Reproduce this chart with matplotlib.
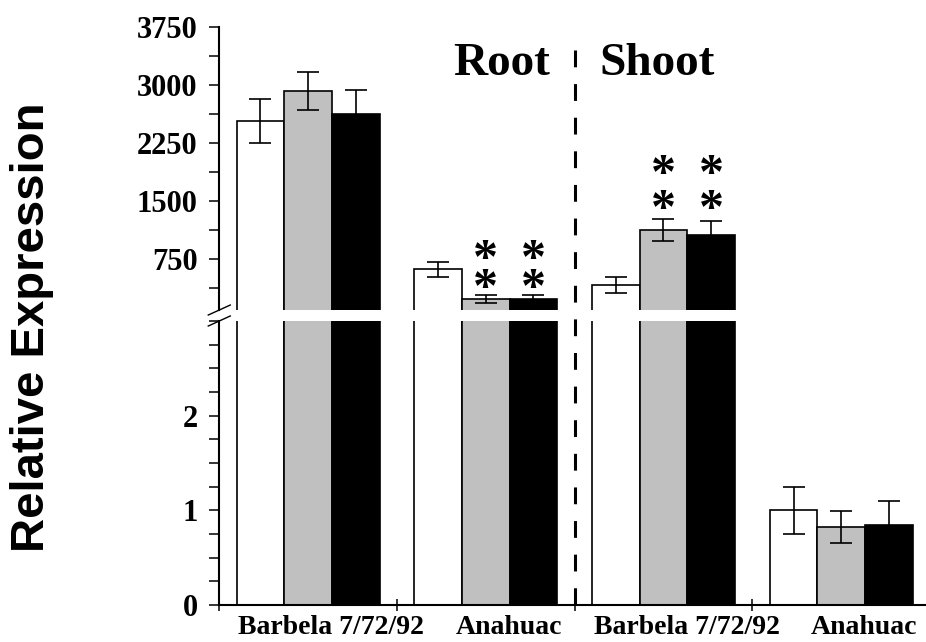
import matplotlib
matplotlib.use("Agg")
import matplotlib.pyplot as plt
import matplotlib.transforms as mtransforms
from matplotlib.lines import Line2D
from matplotlib.ticker import FixedLocator, MultipleLocator
import numpy as np

# data (root groups and shoot Barbela sit on the upper scale)
groups = ["Barbela 7/72/92", "Anahuac", "Barbela 7/72/92", "Anahuac"]
white_mean = [2540, 620, 420, 1.00]
gray_mean = [2925, 235, 1130, 0.82]
black_mean = [2635, 237, 1070, 0.84]
white_err = [280, 100, 105, 0.25]
gray_err = [245, 48, 145, 0.17]
black_err = [310, 48, 177, 0.26]

# significance marks "**" stacked above gray / black bars: group -> (mid y, line spacing)
star_groups = [1, 2]
star_mid = [545, 1600]
star_spacing = [0.52, 0.68]

serif = "Liberation Serif"
sans = "Liberation Sans"

fig = plt.figure(figsize=(9.26, 6.42), dpi=100)
ax_up = fig.add_axes([0.2368, 0.5171, 0.7675, 0.4404])
ax_low = fig.add_axes([0.2368, 0.0576, 0.7675, 0.4424])

bw = 0.268
x = np.arange(len(groups)) + 0.5
series = [(white_mean, white_err, "white"),
          (gray_mean, gray_err, "#c0c0c0"),
          (black_mean, black_err, "black")]

for ax in (ax_up, ax_low):
    for k, (m, e, c) in enumerate(series):
        ax.bar(x + (k - 1) * bw, m, bw, color=c, edgecolor="black",
               linewidth=1.2, yerr=e, capsize=8,
               error_kw=dict(ecolor="black", elinewidth=1.2, capthick=1.2))
    ax.set_xlim(0, 4)
    for s in ("top", "right"):
        ax.spines[s].set_visible(False)
    ax.spines["left"].set_linewidth(1.5)
    ax.tick_params(axis="y", which="both", direction="out", length=7.5,
                   width=1.1, pad=8, labelsize=22)

# upper scale
ax_up.set_ylim(95, 3750)
ax_up.spines["bottom"].set_visible(False)
ax_up.tick_params(axis="x", which="both", bottom=False, labelbottom=False)
ax_up.yaxis.set_major_locator(FixedLocator([750, 1500, 2250, 3000, 3750]))
ax_up.yaxis.set_minor_locator(FixedLocator([375, 1125, 1875, 2625, 3375]))

# lower scale
ax_low.set_ylim(0, 3)
ax_low.spines["bottom"].set_linewidth(1.5)
ax_low.yaxis.set_major_locator(FixedLocator([0, 1, 2]))
ax_low.yaxis.set_minor_locator(MultipleLocator(0.25))
ax_low.set_xticks(x + 0.13)
ax_low.set_xticklabels(groups, fontfamily=serif, fontweight="bold", fontsize=20)
ax_low.xaxis.set_minor_locator(FixedLocator([0, 1, 2, 3, 4]))
ax_low.tick_params(axis="x", which="major", length=0, pad=7)
ax_low.tick_params(axis="x", which="minor", direction="inout", length=9, width=1.1)

for ax in (ax_up, ax_low):
    for lab in ax.get_yticklabels():
        lab.set_fontfamily(serif)
        lab.set_fontweight("bold")

# break marks on the left spine
dx, dy = 0.0155, 0.0177
ax_up.plot([-dx, dx], [-dy, dy], transform=ax_up.transAxes, color="black",
           lw=1.0, clip_on=False)
ax_low.plot([-dx, dx], [1 - dy, 1 + dy], transform=ax_low.transAxes,
            color="black", lw=1.0, clip_on=False)

# stars
for g, ym, ls in zip(star_groups, star_mid, star_spacing):
    for b in (1, 2):
        ax_up.text(x[g] + (b - 1) * bw, ym, "*\n*", ha="center", va="center",
                   fontsize=36, fontfamily=serif, fontweight="bold",
                   linespacing=ls)

# Root / Shoot headings
ax_up.text(1.861, 3133, "Root", ha="right", va="baseline", fontsize=34,
           fontfamily=serif, fontweight="bold")
ax_up.text(2.142, 3133, "Shoot", ha="left", va="baseline", fontsize=34,
           fontfamily=serif, fontweight="bold")

# dashed divider running through both panels
trans = mtransforms.blended_transform_factory(ax_low.transData, fig.transFigure)
fig.add_artist(Line2D([2, 2], [0.922, 0.0576], transform=trans, color="black",
                      lw=2.2, linestyle=(0, (5.5, 5.5)), zorder=5))

fig.text(0.035, 0.49, "Relative Expression", rotation=90, ha="center",
         va="center", fontsize=34, fontfamily=sans, fontweight="bold")

fig.savefig("out.png", dpi=100)
